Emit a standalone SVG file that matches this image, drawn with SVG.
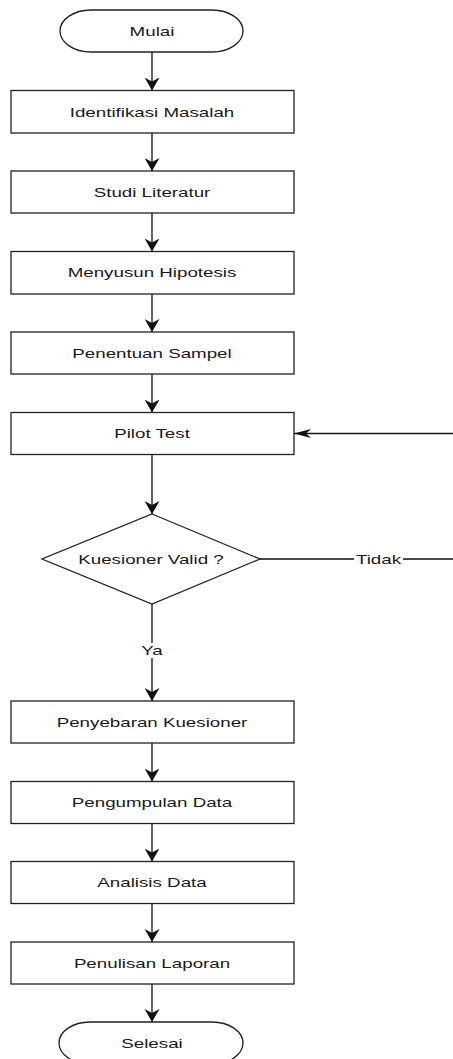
<svg xmlns="http://www.w3.org/2000/svg" width="453" height="1059" viewBox="0 0 453 1059">
<style>
.box{fill:#fff;stroke:#222;stroke-width:1.3}
.lbl{font-family:"Liberation Sans",Arial,sans-serif;font-size:12.5px;fill:#1a1a1a;text-anchor:middle}
.con{fill:none;stroke:#111;stroke-width:1.3}
.bg{fill:#fff;stroke:none}
</style>
<defs>
<marker id="arrV" viewBox="-13 -7.5 13 15" markerWidth="13" markerHeight="15" refX="0" refY="0" orient="auto" markerUnits="userSpaceOnUse">
<path d="M0,0 L-13,-7.5 L-9,0 L-13,7.5 Z" fill="#111"/>
</marker>
<marker id="arrH" viewBox="-17 -4.5 17 9" markerWidth="17" markerHeight="9" refX="0" refY="0" orient="auto" markerUnits="userSpaceOnUse">
<path d="M0,0 L-17,-4.5 L-12,0 L-17,4.5 Z" fill="#111"/>
</marker>
</defs>
<rect width="453" height="1059" fill="#fff"/>
<g id="connectors">
<path class="con" d="M152,52 V90.5" marker-end="url(#arrV)"/>
<path class="con" d="M152,133 V171" marker-end="url(#arrV)"/>
<path class="con" d="M152,213 V251.5" marker-end="url(#arrV)"/>
<path class="con" d="M152,294 V332" marker-end="url(#arrV)"/>
<path class="con" d="M152,374 V412.5" marker-end="url(#arrV)"/>
<path class="con" d="M152,454.5 V514" marker-end="url(#arrV)"/>
<path class="con" d="M152,604 V701" marker-end="url(#arrV)"/>
<path class="con" d="M152,743 V781.5" marker-end="url(#arrV)"/>
<path class="con" d="M152,823.5 V861.5" marker-end="url(#arrV)"/>
<path class="con" d="M152,903.5 V942" marker-end="url(#arrV)"/>
<path class="con" d="M152,984 V1022" marker-end="url(#arrV)"/>
<path class="con" d="M260,559 H470 V433.5 H294" marker-end="url(#arrH)"/>
<rect class="bg" x="142" y="643" width="20" height="15"/>
<text class="lbl" transform="translate(152,655) scale(1.5,1)">Ya</text>
<rect class="bg" x="354" y="551" width="49" height="16"/>
<text class="lbl" transform="translate(378.5,563.5) scale(1.5,1)">Tidak</text>
</g>
<g id="mulai">
<rect class="box" x="60" y="10" width="183" height="42" rx="31" ry="21"/>
<text class="lbl" transform="translate(152,35.5) scale(1.5,1)">Mulai</text>
</g>
<g id="identifikasi">
<rect class="box" x="11" y="90.5" width="283" height="42.5"/>
<text class="lbl" transform="translate(152,116.5) scale(1.5,1)">Identifikasi Masalah</text>
</g>
<g id="studi">
<rect class="box" x="11" y="171" width="283" height="42"/>
<text class="lbl" transform="translate(152,196.5) scale(1.5,1)">Studi Literatur</text>
</g>
<g id="hipotesis">
<rect class="box" x="11" y="251.5" width="283" height="42.5"/>
<text class="lbl" transform="translate(152,277) scale(1.5,1)">Menyusun Hipotesis</text>
</g>
<g id="sampel">
<rect class="box" x="11" y="332" width="283" height="42"/>
<text class="lbl" transform="translate(152,357.5) scale(1.5,1)">Penentuan Sampel</text>
</g>
<g id="pilot">
<rect class="box" x="11" y="412.5" width="283" height="42"/>
<text class="lbl" transform="translate(152,438) scale(1.5,1)">Pilot Test</text>
</g>
<g id="valid">
<polygon class="box" points="152,514 260,559 152,604 42,559"/>
<text class="lbl" transform="translate(151,563.5) scale(1.5,1)">Kuesioner Valid ?</text>
</g>
<g id="penyebaran">
<rect class="box" x="11" y="701" width="283" height="42"/>
<text class="lbl" transform="translate(152,726.5) scale(1.5,1)">Penyebaran Kuesioner</text>
</g>
<g id="pengumpulan">
<rect class="box" x="11" y="781.5" width="283" height="42"/>
<text class="lbl" transform="translate(152,807) scale(1.5,1)">Pengumpulan Data</text>
</g>
<g id="analisis">
<rect class="box" x="11" y="861.5" width="283" height="42"/>
<text class="lbl" transform="translate(152,887) scale(1.5,1)">Analisis Data</text>
</g>
<g id="penulisan">
<rect class="box" x="11" y="942" width="283" height="42"/>
<text class="lbl" transform="translate(152,967.5) scale(1.5,1)">Penulisan Laporan</text>
</g>
<g id="selesai">
<rect class="box" x="59" y="1022" width="184" height="42" rx="31" ry="21"/>
<text class="lbl" transform="translate(152,1047.5) scale(1.5,1)">Selesai</text>
</g>
</svg>
